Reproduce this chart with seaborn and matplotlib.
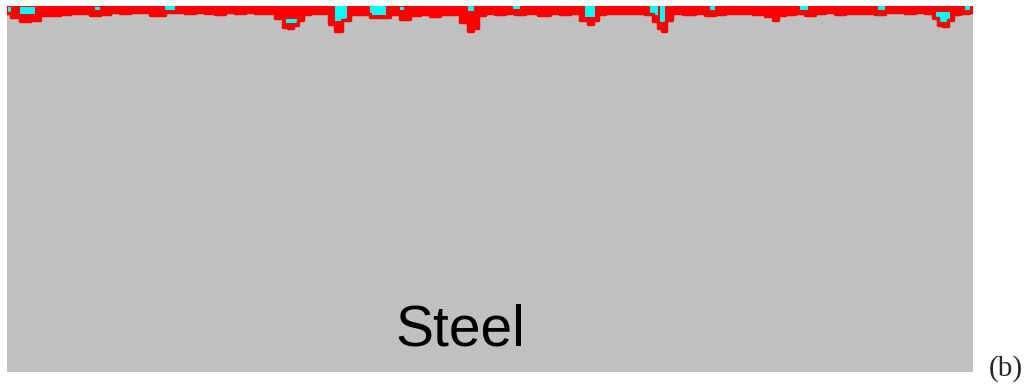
import matplotlib
matplotlib.use("Agg")
import matplotlib.pyplot as plt
import seaborn as sns

# surface profile: x position (px) and depth of the red boundary (px from image top)
profile_x = [7, 15, 25, 35, 45, 55, 65, 75, 85, 95, 105, 115, 125, 135, 145, 155, 160,
             170, 180, 190, 200, 210, 220, 230, 240, 250, 260, 270, 280, 285, 290, 295,
             300, 305, 315, 325, 332, 338, 345, 355, 365, 375, 385, 395, 405, 415, 425,
             435, 445, 455, 465, 470, 475, 480, 490, 500, 510, 520, 530, 545, 555, 565,
             575, 585, 590, 595, 600, 610, 620, 630, 640, 650, 655, 660, 663, 668, 675,
             690, 700, 710, 720, 730, 745, 760, 770, 775, 780, 790, 800, 810, 820, 830,
             840, 850, 860, 870, 880, 890, 900, 910, 920, 930, 935, 940, 945, 950, 955,
             965, 973]
profile_depth = [13, 17, 21, 20, 15, 15, 14, 13, 13, 15, 14, 12, 13, 12, 12, 15, 15,
                 12, 12, 13, 12, 13, 14, 12, 13, 12, 13, 13, 18, 27, 28, 25,
                 20, 14, 13, 13, 24, 31, 20, 14, 14, 17, 17, 14, 19, 15, 14,
                 16, 14, 14, 22, 31, 28, 15, 13, 14, 13, 14, 13, 15, 13, 14,
                 13, 20, 24, 20, 14, 13, 13, 13, 13, 14, 21, 28, 31, 20, 13,
                 14, 13, 15, 14, 13, 13, 14, 16, 20, 15, 14, 13, 15, 13, 12,
                 14, 13, 13, 13, 14, 12, 12, 13, 12, 13, 18, 25, 26, 20, 14,
                 13, 12]

# cyan pockets inside the surface layer
cyan_x0 = [8, 20, 95, 165, 286, 335, 370, 400, 468, 513, 585, 650, 660, 710, 800, 878, 936, 965]
cyan_x1 = [11, 35, 100, 175, 300, 347, 386, 404, 474, 520, 595, 658, 665, 715, 808, 885, 950, 970]
cyan_top = [7, 7, 7, 6, 19, 6, 6, 7, 6, 6, 6, 6, 6, 6, 6, 6, 12, 6]
cyan_bot = [13, 14, 10, 10, 23, 21, 15, 10, 11, 9, 17, 15, 22, 10, 10, 10, 22, 10]

sns.set_style("white")

fig = plt.figure(figsize=(10.28, 3.85), dpi=100)
ax = fig.add_axes([7 / 1028, 13 / 385, 966 / 1028, 366 / 385])
ax.set_facecolor("#c0c0c0")
ax.set_xlim(7, 973)
ax.set_ylim(372, 6)

# surface layer (red) with a stepped, pixel-like lower edge
ax.fill_between(profile_x, 6, profile_depth, color="#ff0000", linewidth=0, step="mid")
sns.lineplot(x=profile_x, y=profile_depth, color="#ff0000", linewidth=2.5, ax=ax,
             sort=False, estimator=None, drawstyle="steps-mid")
for x0, x1, t, b in zip(cyan_x0, cyan_x1, cyan_top, cyan_bot):
    ax.fill_between([x0, x1], t, b, color="#00ffff", linewidth=0)

ax.text(460, 346, "Steel", family="Liberation Sans", fontsize=41, color="black",
        ha="center", va="baseline")

ax.set_xticks([])
ax.set_yticks([])
for s in ax.spines.values():
    s.set_visible(False)

fig.text(1006 / 1028, 1 - 376 / 385, "(b)", family="Liberation Serif", fontsize=21,
         ha="center", va="baseline")

fig.savefig("out.png", dpi=100)
